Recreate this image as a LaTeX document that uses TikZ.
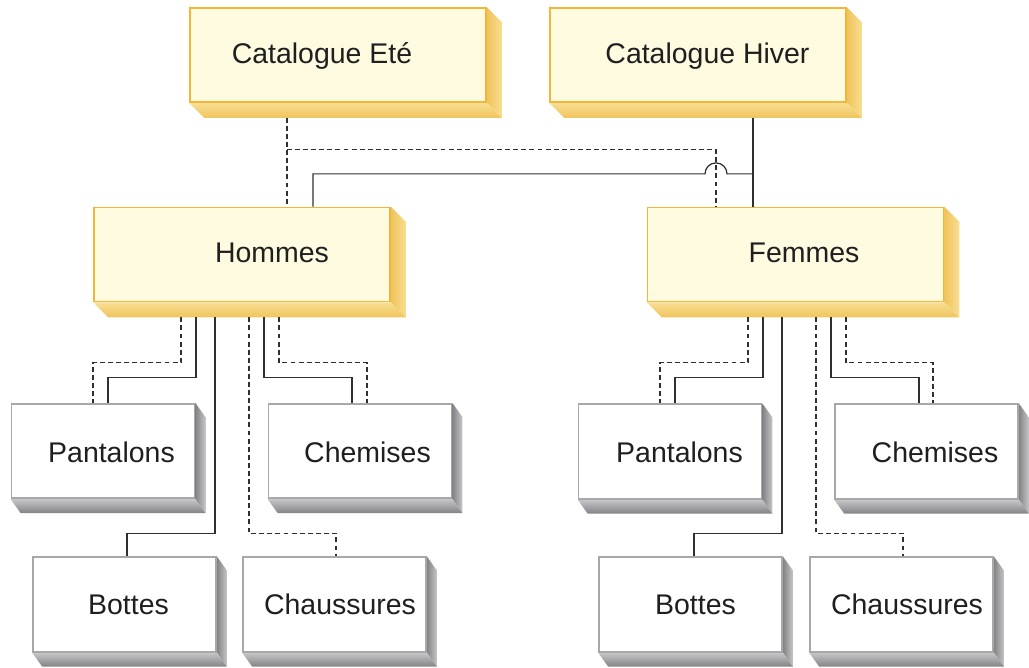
\documentclass[tikz,border=0pt]{standalone}
\usepackage{fontspec}
\setmainfont{Liberation Sans}
\definecolor{yelfill}{HTML}{FFFBE1}
\definecolor{yelline}{HTML}{F5B43A}
\definecolor{yelside}{HTML}{F8DE92}
\definecolor{yeldark}{HTML}{F0C45C}
\definecolor{greyline}{HTML}{A8A8AA}
\definecolor{greyside}{HTML}{C6C6C8}
\definecolor{greydark}{HTML}{838387}
\definecolor{linkcol}{HTML}{303030}
\pgfdeclarelayer{back}
\pgfsetlayers{back,main}
\tikzset{
	catbox/.style={draw=yelline, fill=yelfill, line width=1pt, minimum width=5.92cm, minimum height=1.88cm, inner sep=0pt},
	itembox/.style={draw=greyline, fill=white, line width=1pt, minimum width=3.66cm, minimum height=1.89cm, inner sep=0pt},
	lbl/.style={anchor=base, inner sep=0pt, font=\fontsize{16.2}{19}\selectfont, text=black!88},
	link/.style={draw=linkcol, line width=0.7pt},
	dlink/.style={link, dash pattern=on 2.8pt off 1.8pt},
}
\begin{document}
\begin{tikzpicture}[x=0.02cm, y=-0.02cm]
	\useasboundingbox (0,0) rectangle (1029,667);
	% catalogues and groups
	\node[catbox] (ete) at (338,55) {};
	\node[catbox] (hiv) at (698,55) {};
	\node[catbox] (hom) at (242,254.5) {};
	\node[catbox] (fem) at (795.5,254.5) {};
	% articles
	\node[itembox] (panh) at (103,451) {};
	\node[itembox] (cheh) at (360,451) {};
	\node[itembox] (both) at (124.5,604.5) {};
	\node[itembox] (chah) at (334.5,604.5) {};
	\node[itembox] (panf) at (670,451.5) {};
	\node[itembox] (chef) at (926.5,451.5) {};
	\node[itembox] (botf) at (690.5,604.5) {};
	\node[itembox] (chaf) at (901.5,604.5) {};
	% depth of the boxes
	\begin{pgfonlayer}{back}
	\foreach \n in {ete,hiv,hom,fem} {
		\shade[left color=yeldark, right color=yelside] (\n.north east) -- ([shift={(15,15)}]\n.north east) -- ([shift={(15,15)}]\n.south east) -- (\n.south east) -- cycle;
		\shade[top color=yelside, bottom color=yeldark] (\n.south west) -- ([shift={(15,15)}]\n.south west) -- ([shift={(15,15)}]\n.south east) -- (\n.south east) -- cycle;
		\coordinate (\n-b) at ([shift={(0,15)}]\n.south);
	}
	\foreach \n in {panh,cheh,both,chah,panf,chef,botf,chaf} {
		\shade[left color=greydark, right color=greyside] (\n.north east) -- ([shift={(10,14)}]\n.north east) -- ([shift={(10,14)}]\n.south east) -- (\n.south east) -- cycle;
		\shade[top color=greyside, bottom color=greydark] (\n.south west) -- ([shift={(10,14)}]\n.south west) -- ([shift={(10,14)}]\n.south east) -- (\n.south east) -- cycle;
	}
	\end{pgfonlayer}
	% texts
	\node[lbl] (ete-t) at (322,63) {Catalogue Eté};
	\node[lbl] (hiv-t) at (707.5,63) {Catalogue Hiver};
	\node[lbl] (hom-t) at (272,262) {Hommes};
	\node[lbl] (fem-t) at (804,262) {Femmes};
	\node[lbl] (panh-t) at (111.5,462) {Pantalons};
	\node[lbl] (cheh-t) at (367.5,462) {Chemises};
	\node[lbl] (both-t) at (128.5,614) {Bottes};
	\node[lbl] (chah-t) at (340,614) {Chaussures};
	\node[lbl] (panf-t) at (679.5,462) {Pantalons};
	\node[lbl] (chef-t) at (935,462) {Chemises};
	\node[lbl] (botf-t) at (695.5,614) {Bottes};
	\node[lbl] (chaf-t) at (907,614) {Chaussures};
	% catalogue links
	\draw[dlink] (ete-b -| 287,0) -- (hom.north -| 287,0);
	\draw[dlink] (ete-b -| 287,0) ++(0,32) -| (fem.north -| 716,0);
	\draw[link] (hiv-b -| 753,0) -- (fem.north -| 753,0);
	\draw[link] (hiv-b -| 753,0) ++(0,56) -- ++(-26,0) arc[start angle=0, end angle=-180, radius=11] -| (hom.north -| 313,0);
	% article links
	\foreach \p/\sx/\dy/\ex/\c in {hom/196/60/108/panh, hom/215/216/127/both, hom/264/60/352/cheh, fem/763/60/675/panf, fem/782/216/694/botf, fem/831/60/919/chef}
		\draw[link] (\p-b -| \sx,0) -- ++(0,\dy) -| (\c.north -| \ex,0);
	\foreach \p/\sx/\dy/\ex/\c in {hom/181/45/93/panh, hom/249/216/336/chah, hom/279/45/367/cheh, fem/748/45/660/panf, fem/816/216/903/chaf, fem/846/45/933/chef}
		\draw[dlink] (\p-b -| \sx,0) -- ++(0,\dy) -| (\c.north -| \ex,0);
\end{tikzpicture}
\end{document}
